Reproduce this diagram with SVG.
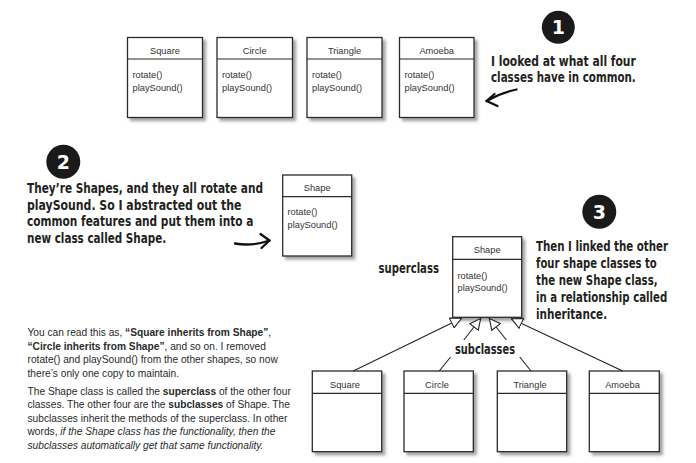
<svg xmlns="http://www.w3.org/2000/svg" width="696" height="463" viewBox="0 0 696 463">
<defs>
<filter id="sh" x="-10%" y="-10%" width="130%" height="130%">
<feDropShadow dx="3" dy="3" stdDeviation="1.8" flood-color="#555" flood-opacity="0.55"/>
</filter>
<marker id="tri" viewBox="0 0 12 12" refX="12" refY="6" markerWidth="12" markerHeight="12" markerUnits="userSpaceOnUse" orient="auto">
<path d="M0.6,0.6 L11.5,6 L0.6,11.4 Z" fill="#fff" stroke="#222" stroke-width="1.1" stroke-linejoin="miter"/>
</marker>
</defs>
<style>
.box{fill:#fff;stroke:#2b2b2b;stroke-width:1.3}
.div{stroke:#2b2b2b;stroke-width:1.2}
.cn{font-family:"Liberation Sans",Arial,sans-serif;font-size:9.3px;fill:#333;text-anchor:middle}
.cm{font-family:"Liberation Sans",Arial,sans-serif;font-size:9.3px;fill:#333}
.hand{font-family:"DejaVu Sans Condensed","Liberation Sans Narrow","Liberation Sans",sans-serif;font-weight:bold;font-size:14.5px;fill:#231f20}
.num{fill:#1a1a1a}
.digit{font-family:"DejaVu Sans","Liberation Sans",sans-serif;font-weight:bold;font-size:19px;fill:#fff;text-anchor:middle}
.body{font-family:"Liberation Sans",Arial,sans-serif;font-size:10.2px;fill:#2a2a2a}
.inh{stroke:#222;stroke-width:1.1;fill:none}
.brush{stroke:#111;stroke-width:2.3;fill:none;stroke-linecap:round;stroke-linejoin:round}
</style>
<rect width="696" height="463" fill="#fff"/>

<!-- Top row classes -->
<g id="top-square">
<rect class="box" x="127.5" y="37.5" width="75" height="80" filter="url(#sh)"/>
<line class="div" x1="127.5" y1="59" x2="202.5" y2="59"/>
<text class="cn" x="165" y="53.5">Square</text>
<text class="cm" x="132.5" y="78">rotate()</text>
<text class="cm" x="132.5" y="91">playSound()</text>
</g>
<g id="top-circle">
<rect class="box" x="217" y="37.5" width="75.5" height="80" filter="url(#sh)"/>
<line class="div" x1="217" y1="59" x2="292.5" y2="59"/>
<text class="cn" x="254.7" y="53.5">Circle</text>
<text class="cm" x="222" y="78">rotate()</text>
<text class="cm" x="222" y="91">playSound()</text>
</g>
<g id="top-triangle">
<rect class="box" x="307" y="37.5" width="75" height="80" filter="url(#sh)"/>
<line class="div" x1="307" y1="59" x2="382" y2="59"/>
<text class="cn" x="344.5" y="53.5">Triangle</text>
<text class="cm" x="312" y="78">rotate()</text>
<text class="cm" x="312" y="91">playSound()</text>
</g>
<g id="top-amoeba">
<rect class="box" x="399.5" y="37.5" width="74.5" height="80" filter="url(#sh)"/>
<line class="div" x1="399.5" y1="59" x2="474" y2="59"/>
<text class="cn" x="436.7" y="53.5">Amoeba</text>
<text class="cm" x="404.5" y="78">rotate()</text>
<text class="cm" x="404.5" y="91">playSound()</text>
</g>

<!-- Step 1 -->
<g id="step1">
<circle class="num" cx="558.3" cy="27.3" r="16.5"/>
<text class="digit" x="558.3" y="34">1</text>
<text class="hand" transform="translate(491,65.5) scale(0.8,1)" x="0" y="0" textLength="181" lengthAdjust="spacingAndGlyphs">I looked at what all four</text>
<text class="hand" transform="translate(491,82) scale(0.8,1)" x="0" y="0" textLength="181" lengthAdjust="spacingAndGlyphs">classes have in common.</text>
</g>

<!-- Step 2 -->
<g id="step2">
<circle class="num" cx="63.3" cy="161.7" r="17"/>
<text class="digit" x="63.3" y="168.5">2</text>
<text class="hand" transform="translate(27,193) scale(0.8,1)" x="0" y="0" textLength="295" lengthAdjust="spacingAndGlyphs">They’re Shapes, and they all rotate and</text>
<text class="hand" transform="translate(27,209.5) scale(0.8,1)" x="0" y="0" textLength="268" lengthAdjust="spacingAndGlyphs">playSound.  So I abstracted out the</text>
<text class="hand" transform="translate(27,226) scale(0.8,1)" x="0" y="0" textLength="283" lengthAdjust="spacingAndGlyphs">common features and put them into a</text>
<text class="hand" transform="translate(27,242.5) scale(0.8,1)" x="0" y="0" textLength="174" lengthAdjust="spacingAndGlyphs">new class called Shape.</text>
</g>

<g id="mid-shape">
<rect class="box" x="282.7" y="175" width="69" height="81" filter="url(#sh)"/>
<line class="div" x1="282.7" y1="196.7" x2="351.7" y2="196.7"/>
<text class="cn" x="317.2" y="190.5">Shape</text>
<text class="cm" x="287.5" y="215">rotate()</text>
<text class="cm" x="287.5" y="228.3">playSound()</text>
</g>

<!-- Step 3 -->
<g id="step3">
<circle class="num" cx="599.3" cy="211.7" r="17"/>
<text class="digit" x="599.3" y="218.5">3</text>
<text class="hand" transform="translate(536,251) scale(0.8,1)" x="0" y="0" textLength="165" lengthAdjust="spacingAndGlyphs">Then I linked the other</text>
<text class="hand" transform="translate(536,268) scale(0.8,1)" x="0" y="0" textLength="151" lengthAdjust="spacingAndGlyphs">four shape classes to</text>
<text class="hand" transform="translate(536,285) scale(0.8,1)" x="0" y="0" textLength="152" lengthAdjust="spacingAndGlyphs">the new Shape class,</text>
<text class="hand" transform="translate(536,302) scale(0.8,1)" x="0" y="0" textLength="164" lengthAdjust="spacingAndGlyphs">in a relationship called</text>
<text class="hand" transform="translate(536,319) scale(0.8,1)" x="0" y="0" textLength="89" lengthAdjust="spacingAndGlyphs">inheritance.</text>
</g>

<g id="label-superclass">
<text class="hand" transform="translate(378.5,273) scale(0.8,1)" x="0" y="0" font-size="13.5" textLength="75.5" lengthAdjust="spacingAndGlyphs">superclass</text>
</g>
<g id="label-subclasses">
<text class="hand" transform="translate(455,353.5) scale(0.8,1)" x="0" y="0" font-size="13.5" textLength="75" lengthAdjust="spacingAndGlyphs">subclasses</text>
</g>

<g id="shape">
<rect class="box" x="452.7" y="236.7" width="69" height="80.6" filter="url(#sh)"/>
<line class="div" x1="452.7" y1="259.3" x2="521.7" y2="259.3"/>
<text class="cn" x="487.2" y="253.3">Shape</text>
<text class="cm" x="457.5" y="279">rotate()</text>
<text class="cm" x="457.5" y="291">playSound()</text>
</g>

<!-- Bottom row subclasses -->
<g id="square">
<rect class="box" x="312.3" y="371" width="69.4" height="80.7" filter="url(#sh)"/>
<line class="div" x1="312.3" y1="393.3" x2="381.7" y2="393.3"/>
<text class="cn" x="345" y="387.5">Square</text>
</g>
<g id="circle">
<rect class="box" x="404" y="371" width="69.3" height="80.7" filter="url(#sh)"/>
<line class="div" x1="404" y1="393.3" x2="473.3" y2="393.3"/>
<text class="cn" x="437" y="387.5">Circle</text>
</g>
<g id="triangle">
<rect class="box" x="497.3" y="371" width="69.4" height="80.7" filter="url(#sh)"/>
<line class="div" x1="497.3" y1="393.3" x2="566.7" y2="393.3"/>
<text class="cn" x="530" y="387.5">Triangle</text>
</g>
<g id="amoeba">
<rect class="box" x="589.3" y="371" width="70" height="80.7" filter="url(#sh)"/>
<line class="div" x1="589.3" y1="393.3" x2="659.3" y2="393.3"/>
<text class="cn" x="622.5" y="387.5">Amoeba</text>
</g>

<!-- Connectors -->
<g id="connectors">
<line class="inh" x1="353.3" y1="371" x2="462" y2="318" marker-end="url(#tri)"/>
<line class="inh" x1="439.3" y1="371" x2="450.6" y2="357"/>
<line class="inh" x1="463.8" y1="340" x2="481" y2="318" marker-end="url(#tri)"/>
<line class="inh" x1="531" y1="371" x2="519.8" y2="357"/>
<line class="inh" x1="506.4" y1="340" x2="489" y2="318" marker-end="url(#tri)"/>
<line class="inh" x1="622.7" y1="371" x2="511" y2="318.5" marker-end="url(#tri)"/>
<path class="brush" d="M516.5,89.5 Q500,93 486.5,101"/>
<path class="brush" stroke-width="2" d="M494.5,94 L486.5,101 L497.5,106"/>
<path class="brush" d="M235,243.5 Q252,246.5 269.5,240.5"/>
<path class="brush" stroke-width="2" d="M260.5,234 L269.5,240.5 L261.5,248"/>
</g>

<!-- Body text -->
<g id="body-text">
<text class="body" x="27.5" y="336">You can read this as, <tspan font-weight="bold">“Square inherits from Shape”</tspan>,</text>
<text class="body" x="27.5" y="349.5"><tspan font-weight="bold">“Circle inherits from Shape”</tspan>, and so on. I removed</text>
<text class="body" x="27.5" y="363">rotate() and playSound() from the other shapes, so now</text>
<text class="body" x="27.5" y="376.5">there’s only one copy to maintain.</text>
<text class="body" x="27.5" y="394.5">The Shape class is called the <tspan font-weight="bold">superclass</tspan> of the other four</text>
<text class="body" x="27.5" y="408">classes. The other four are the <tspan font-weight="bold">subclasses</tspan> of Shape. The</text>
<text class="body" x="27.5" y="421.5">subclasses inherit the methods of the superclass. In other</text>
<text class="body" x="27.5" y="435">words, <tspan font-style="italic">if the Shape class has the functionality, then the</tspan></text>
<text class="body" x="27.5" y="448.5" font-style="italic">subclasses automatically get that same functionality.</text>
</g>
</svg>
